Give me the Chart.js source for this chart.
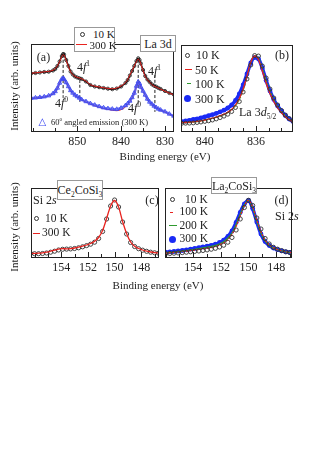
<!DOCTYPE html>
<html>
<head>
<meta charset="utf-8">
<script src="https://cdn.jsdelivr.net/npm/chart.js@4.4.1/dist/chart.umd.min.js"></script>
<style>
  body { margin: 0; background: #fff; }
  #wrap { position: relative; width: 317px; height: 454px; overflow: hidden; font-family: "Liberation Serif", "Times New Roman", serif; color: #222; }
  #wrap canvas { position: absolute; left: 0; top: 0; }
  .t { position: absolute; white-space: nowrap; line-height: 1; }
  .c { transform: translate(-50%, -50%); }
  .l { transform: translateY(-50%); }
  .v { transform: translate(-50%, -50%) rotate(-90deg); }
  .box { position: absolute; background: #fff; border: 1px solid #999; box-sizing: border-box; display: flex; align-items: center; justify-content: center; white-space: nowrap; line-height: 1; }
  .ring { position: absolute; border: 1px solid #333; border-radius: 50%; box-sizing: border-box; }
  .dot { position: absolute; border-radius: 50%; }
  .ln { position: absolute; height: 0; }
  sub, sup { font-size: 0.62em; line-height: 0; }
</style>
</head>
<body>
<div id="wrap">
  <canvas id="pa" width="317" height="454"></canvas>
  <canvas id="pb" width="317" height="454"></canvas>
  <canvas id="pc" width="317" height="454"></canvas>
  <canvas id="pd" width="317" height="454"></canvas>

  <!-- axis titles -->
  <div class="t v" style="left:14px;top:86px;font-size:11px">Intensity (arb. units)</div>
  <div class="t v" style="left:14px;top:227px;font-size:11px">Intensity (arb. units)</div>
  <div class="t c" style="left:165px;top:156px;font-size:11px">Binding energy (eV)</div>
  <div class="t c" style="left:158px;top:285px;font-size:11px">Binding energy (eV)</div>

  <!-- panel a -->
  <div class="t c" style="left:43.5px;top:57px;font-size:12px">(a)</div>
  <div class="box" style="left:74px;top:27px;width:41px;height:25px"></div>
  <div class="ring" style="left:79.5px;top:31.5px;width:5px;height:5px"></div>
  <div class="t l" style="left:93px;top:34px;font-size:11px">10 K</div>
  <div class="ln" style="left:76px;top:43.5px;width:11px;border-top:1.2px solid #e8231f"></div>
  <div class="t l" style="left:89.5px;top:44.5px;font-size:11px">300 K</div>
  <div class="box" style="left:140px;top:35px;width:36px;height:17px;font-size:12px"><span>La 3d</span></div>
  <div class="t l" style="left:77px;top:67px;font-size:12px">4<i>f</i><sup>1</sup></div>
  <div class="t l" style="left:148px;top:71px;font-size:12px">4<i>f</i><sup>1</sup></div>
  <div class="t l" style="left:55px;top:103px;font-size:12px">4<i>f</i><sup>0</sup></div>
  <div class="t l" style="left:128px;top:108px;font-size:12px">4<i>f</i><sup>0</sup></div>
  <div class="t l" style="left:38.5px;top:121.5px;font-size:10px;color:#3c48f0;font-family:'DejaVu Sans'">△</div>
  <div class="t l" style="left:51px;top:121.5px;font-size:8.5px">60<sup>o</sup> angled emission (300 K)</div>

  <!-- panel b -->
  <div class="t c" style="left:282px;top:55px;font-size:12px">(b)</div>
  <div class="ring" style="left:184.5px;top:52.5px;width:5px;height:5px"></div>
  <div class="t l" style="left:196px;top:55px;font-size:12px">10 K</div>
  <div class="ln" style="left:185px;top:69px;width:7px;border-top:1.2px solid #e8231f"></div>
  <div class="t l" style="left:195px;top:69.5px;font-size:12px">50 K</div>
  <div class="ln" style="left:187px;top:83px;width:4px;border-top:1.2px solid #2f9a2f"></div>
  <div class="t l" style="left:195px;top:83.5px;font-size:12px">100 K</div>
  <div class="dot" style="left:183.5px;top:94.5px;width:7px;height:7px;background:#1a2af5"></div>
  <div class="t l" style="left:195px;top:98.5px;font-size:12px">300 K</div>
  <div class="t l" style="left:239px;top:111.5px;font-size:12px">La 3<i>d</i><sub>5/2</sub></div>

  <!-- panel c -->
  <div class="t c" style="left:152px;top:200px;font-size:12px">(c)</div>
  <div class="t l" style="left:33px;top:200px;font-size:12px">Si 2<i>s</i></div>
  <div class="box" style="left:57px;top:180px;width:46px;height:20px;font-size:12px"><span>Ce<sub>2</sub>CoSi<sub>3</sub></span></div>
  <div class="ring" style="left:33.5px;top:216px;width:5px;height:5px"></div>
  <div class="t l" style="left:45px;top:218.5px;font-size:11.5px">10 K</div>
  <div class="ln" style="left:33px;top:232.5px;width:7px;border-top:1.2px solid #e8231f"></div>
  <div class="t l" style="left:42px;top:233px;font-size:11.5px">300 K</div>

  <!-- panel d -->
  <div class="t c" style="left:281.5px;top:200px;font-size:12px">(d)</div>
  <div class="box" style="left:211px;top:177px;width:46px;height:17px;font-size:12px"><span>La<sub>2</sub>CoSi<sub>3</sub></span></div>
  <div class="ring" style="left:169.5px;top:197px;width:5px;height:5px"></div>
  <div class="t l" style="left:185px;top:199.5px;font-size:11.5px">10 K</div>
  <div class="ln" style="left:170px;top:211.5px;width:3px;border-top:1.2px solid #e8231f"></div>
  <div class="t l" style="left:179.5px;top:212px;font-size:11.5px">100 K</div>
  <div class="ln" style="left:169px;top:225px;width:8px;border-top:1.2px solid #2f9a2f"></div>
  <div class="t l" style="left:179.5px;top:225.5px;font-size:11.5px">200 K</div>
  <div class="dot" style="left:168.5px;top:236px;width:7px;height:7px;background:#1a2af5"></div>
  <div class="t l" style="left:179.5px;top:239px;font-size:11.5px">300 K</div>
  <div class="t l" style="left:275px;top:216px;font-size:12px">Si 2<i>s</i></div>
</div>

<script>
// ---- (a) La 3d, full range ----
const eA = [860.5, 859.5, 858.5, 857.5, 856.5, 855.5, 855, 854.5, 854, 853.5, 853.2, 853, 852.5, 852, 851.5, 851, 850.5, 850, 849.5, 849,
            848, 847, 846, 845, 844, 843, 842, 841, 840, 839, 838.5, 838, 837.5, 837, 836.5, 836.1, 835.8, 835.5, 835, 834.5,
            834, 833.5, 833, 832.5, 832, 831.5, 831, 830, 829, 828];
const a10K = [58.5, 59, 59.5, 60, 60.3, 61.5, 63, 66, 70.5, 76, 78, 77.5, 72, 66, 60.5, 57.5, 55.5, 54.5, 53.8, 53,
              50.5, 47, 45.5, 44.8, 44, 43.3, 42.8, 43.5, 45.5, 49, 52, 56.5, 61, 66, 71, 73.7, 72, 68.5, 62, 56,
              52.5, 50, 47.7, 46.3, 45.3, 44, 43, 41, 39, 37.5];
const a300K = [58.8, 59.2, 59.6, 60.2, 60.6, 61.8, 63.3, 66.2, 70.5, 75.5, 77.3, 77, 71.5, 65.5, 60.2, 57.3, 55.6, 54.6, 54, 53.2,
               50.8, 47.3, 45.8, 45, 44.3, 43.6, 43.2, 44, 46, 49.5, 52.5, 57, 61.3, 66, 70.5, 73, 71.5, 68, 61.5, 55.5,
               52.2, 49.8, 47.5, 46, 45, 43.8, 42.8, 40.8, 38.8, 37.3];
const a60deg = [33.8, 34.2, 34.7, 35.3, 36.3, 38.5, 40.5, 44, 49, 53, 53.7, 53, 49.5, 45.5, 41.5, 39, 37, 35.5, 34, 32.5,
                30.5, 28.5, 27, 25.5, 24.3, 23.5, 23, 22.8, 24, 26.5, 28.5, 31, 34.5, 39, 46, 50.3, 48.5, 45, 41, 37,
                33, 30, 28, 26, 24.5, 23, 22, 20.3, 18, 16];
const a300Kb = [33.5, 34, 34.5, 35, 36, 38.2, 40.2, 43.8, 48.8, 52.8, 53.5, 52.8, 49.2, 45.2, 41.2, 38.7, 36.7, 35.2, 33.7, 32.2,
                30, 28, 26.3, 24.8, 23.5, 22.6, 21.8, 21.3, 22.3, 25, 27.5, 30.3, 34, 38.8, 45.8, 50, 48.2, 44.7, 40.7, 36.7,
                32.7, 29.7, 27.7, 25.8, 24.3, 22.8, 21.8, 20, 17.8, 15.8];
// dashed markers of the 4f0 / 4f1 final states
const guideE = [853.2, 849.4, 836.1, 832.3];
const guideTop = [77, 52, 72, 57];
const guideBot = [34, 30, 29, 20];

// ---- (b) La 3d5/2 vs temperature ----
const eB = [841.8, 841.5, 841.2, 840.9, 840.6, 840.3, 840.0, 839.7, 839.4, 839.1, 838.8, 838.5, 838.2, 837.9, 837.6,
            837.3, 837.0, 836.7, 836.4, 836.1, 835.8, 835.5, 835.2, 834.9, 834.6, 834.3, 834.0, 833.7, 833.4, 833.1];
const b10K = [8.7, 8.8, 8.9, 9.1, 9.5, 10.0, 10.6, 11.2, 12.0, 13.1, 14.4, 15.9, 17.8, 20.5, 24.5,
              30.5, 40, 53, 67, 76.5, 76, 66, 54, 43, 34, 27, 21.5, 17, 13.5, 11];
const b50K = [9.3, 9.5, 9.8, 10.1, 10.6, 11.2, 12.0, 12.8, 13.8, 14.9, 16.3, 17.8, 19.8, 22.5, 27,
              33.5, 43, 56, 70, 76, 72.5, 61, 49, 38.5, 30.5, 24, 19.3, 15.2, 12.3, 10.2];
const b100K = [9.0, 9.2, 9.5, 9.9, 10.3, 10.9, 11.6, 12.4, 13.4, 14.5, 15.9, 17.4, 19.3, 22, 26.3,
               32.5, 42, 55, 69, 76.3, 74, 64, 52, 41.5, 33, 26.3, 20.8, 16.3, 13, 10.8];
const b300K = [10.3, 11.0, 11.7, 12.5, 13.2, 14.2, 15.2, 16.3, 17.3, 18.7, 20.2, 21.8, 24, 27, 31.5,
               38, 47, 58, 69, 74.5, 73, 64, 51.5, 41, 32.5, 26, 21, 16.5, 13, 10.5];

// ---- (c), (d) Si 2s ----
const eCD = [156.3, 156.0, 155.7, 155.4, 155.1, 154.8, 154.5, 154.2, 153.9, 153.6, 153.3, 153.0, 152.7, 152.4, 152.1, 151.8, 151.5,
             151.2, 150.9, 150.6, 150.3, 150.0, 149.7, 149.4, 149.1, 148.8, 148.5, 148.2, 147.9, 147.6, 147.3, 147.0, 146.7];
const c10K = [4.5, 4.3, 4.3, 4.5, 5.0, 5.8, 6.8, 8.0, 8.7, 8.9, 9.1, 9.5, 10.2, 11.2, 12.4, 13.8, 15.8,
              19.5, 26.5, 39, 52, 58, 51, 36, 24, 15.5, 11.5, 9.3, 7.8, 6.7, 5.8, 5.2, 4.8];
const c300K = [4.8, 4.6, 4.8, 5.2, 5.8, 6.8, 7.8, 8.8, 9.3, 9.2, 9.4, 10.0, 10.8, 11.8, 13.0, 14.5, 16.8,
               20.5, 27.5, 39.5, 52, 57.5, 51, 36.5, 24.5, 16, 11.8, 9.5, 8, 6.8, 6, 5.4, 5];
const d10K = [4.2, 4.3, 4.5, 4.8, 5.1, 5.4, 5.8, 6.2, 6.6, 7.0, 7.5, 8.1, 8.8, 9.7, 11.0, 12.8, 15.8,
              20.5, 28, 39, 50.5, 57.7, 52.5, 40, 29, 19.5, 14, 10.7, 8.8, 7.4, 6.2, 5.4, 5];
const d100K = [4.6, 4.8, 5.1, 5.5, 5.9, 6.3, 6.8, 7.3, 7.8, 8.4, 9.0, 9.7, 10.5, 11.5, 13.0, 15.0, 18.3,
               23.5, 31.5, 42, 52, 57.7, 51, 38, 26.5, 18, 13.2, 10.3, 8.5, 7.2, 6.2, 5.5, 5];
const d200K = [5.0, 5.2, 5.5, 5.9, 6.4, 6.9, 7.4, 8.0, 8.6, 9.3, 10.0, 10.8, 11.6, 12.6, 14.2, 16.3, 19.8,
               25, 33.3, 43.8, 53, 57.8, 50.5, 37, 25.3, 17.3, 12.8, 10.1, 8.4, 7.2, 6.2, 5.5, 5];
const d300K = [5.6, 5.8, 6.1, 6.5, 7.0, 7.5, 8.1, 8.8, 9.5, 10.3, 11.0, 11.8, 12.7, 13.8, 15.5, 17.8, 21.5,
               27, 35.5, 45.5, 54, 57.5, 49.5, 36, 24, 16.5, 12.5, 10, 8.3, 7.2, 6.2, 5.5, 5];

// axis ranges (eV) and labelled ticks
const rangeA = [827.95, 860.52], labelsA = [850, 840, 830];
const rangeB = [833.1, 841.86], labelsB = [840, 836];
const rangeC = [146.67, 156.27], labelsC = [154, 152, 150, 148];
const rangeD = [146.85, 156.05], labelsD = [154, 152, 150, 148];

Chart.defaults.font.family = '"Liberation Serif", "Times New Roman", serif';
Chart.defaults.color = '#222';

const RED = '#e8231f', GREEN = '#2f9a2f', BLUE = '#1a2af5', TRI = '#3c48f0';
const pts = (xs, ys) => xs.map((x, i) => ({ x: x, y: ys[i] }));
const hasLabel = (v, list) => list.some(l => Math.abs(l - v) < 1e-6);

// frame + inward bottom ticks
const boxTicks = {
  id: 'boxTicks',
  afterDraw(chart, args, o) {
    const ctx = chart.ctx, a = chart.chartArea, sx = chart.scales.x;
    ctx.save();
    ctx.strokeStyle = '#222';
    ctx.lineWidth = 1;
    ctx.strokeRect(a.left + 0.5, a.top + 0.5, a.right - a.left - 1, a.bottom - a.top - 1);
    sx.ticks.forEach(t => {
      const px = Math.round(sx.getPixelForValue(t.value)) + 0.5;
      const len = hasLabel(t.value, o.labels) ? 5 : 3;
      ctx.beginPath();
      ctx.moveTo(px, a.bottom - 1);
      ctx.lineTo(px, a.bottom - 1 - len);
      ctx.stroke();
    });
    ctx.restore();
  }
};

function panel(id, area, range, step, labels, yRange, datasets) {
  return new Chart(document.getElementById(id), {
    type: 'line',
    data: { datasets: datasets },
    options: {
      responsive: false,
      animation: false,
      devicePixelRatio: 1,
      layout: { padding: { left: area[0], top: area[1], right: 317 - area[2], bottom: 454 - area[3] - 20 } },
      elements: { line: { cubicInterpolationMode: 'monotone' } },
      plugins: { legend: { display: false }, tooltip: { enabled: false }, boxTicks: { labels: labels } },
      scales: {
        x: {
          type: 'linear', reverse: true, min: range[0], max: range[1],
          grid: { display: false, drawTicks: false }, border: { display: false },
          afterFit: s => { s.height = 20; },
          ticks: {
            stepSize: step, includeBounds: false, autoSkip: false, maxRotation: 0, maxTicksLimit: 40,
            padding: 3, color: '#222', font: { size: 12 },
            callback: v => hasLabel(v, labels) ? String(v) : ''
          }
        },
        y: { display: false, min: yRange[0], max: yRange[1] }
      }
    },
    plugins: [boxTicks]
  });
}

function circles(xs, ys, r, order) {
  return { data: pts(xs, ys), showLine: false, pointStyle: 'circle', pointRadius: r, pointBorderWidth: 0.9,
           pointBorderColor: '#333', pointBackgroundColor: 'rgba(0,0,0,0)', clip: 0, order: order };
}
function line(xs, ys, color, w, dash, order) {
  return { data: pts(xs, ys), borderColor: color, borderWidth: w, borderDash: dash, pointRadius: 0, clip: 0, order: order };
}
function blueDots(xs, ys, order) {
  return { data: pts(xs, ys), borderColor: BLUE, borderWidth: 3.5, pointStyle: 'circle', pointRadius: 2.4,
           pointBorderWidth: 0, pointBackgroundColor: BLUE, clip: 0, order: order };
}

// (a)
const dsA = [
  line(eA, a300K, RED, 1, [], 0),
  { data: pts(eA, a10K), borderColor: '#111', borderWidth: 1.6, pointStyle: 'circle', pointRadius: 1.6, pointBorderWidth: 0.8,
    pointBorderColor: '#111', pointBackgroundColor: 'rgba(0,0,0,0)', clip: 0, order: 1 },
  { data: pts(eA, a60deg), borderColor: 'rgba(80,88,240,0.8)', borderWidth: 2.5, pointStyle: 'triangle', pointRadius: 2.4,
    pointBorderWidth: 0.9, pointBorderColor: TRI, pointBackgroundColor: 'rgba(0,0,0,0)', clip: 0, order: 2 },
  line(eA, a300Kb, RED, 1, [], 3)
];
guideE.forEach((e, i) => {
  dsA.push({ data: [{ x: e, y: guideTop[i] }, { x: e, y: guideBot[i] }], borderColor: '#222', borderWidth: 1,
             borderDash: [3, 2], pointRadius: 0, order: 4 });
});
panel('pa', [31, 44, 174, 132], rangeA, 5, labelsA, [0, 88], dsA);

// (b)
panel('pb', [181, 45, 293, 132], rangeB, 1, labelsB, [0, 87], [
  circles(eB, b10K, 2, 0),
  line(eB, b50K, RED, 1.3, [], 1),
  line(eB, b100K, GREEN, 1.3, [2, 1.5], 2),
  blueDots(eB, b300K, 3)
]);

// (c)
panel('pc', [31, 188, 159, 258], rangeC, 1, labelsC, [0, 70], [
  line(eCD, c300K, RED, 1.3, [], 0),
  circles(eCD, c10K, 2.1, 1)
]);

// (d)
panel('pd', [165, 188, 292, 258], rangeD, 1, labelsD, [0, 70], [
  circles(eCD, d10K, 2.1, 0),
  line(eCD, d100K, RED, 1.3, [2, 1.5], 1),
  line(eCD, d200K, GREEN, 1.3, [], 2),
  blueDots(eCD, d300K, 3)
]);
</script>
</body>
</html>
